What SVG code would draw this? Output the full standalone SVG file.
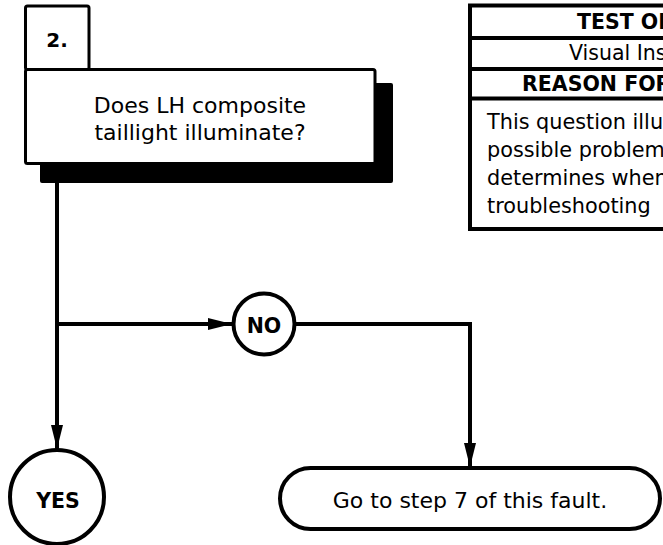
<svg xmlns="http://www.w3.org/2000/svg" width="663" height="545" viewBox="0 0 663 545">
<style>
text{font-family:"DejaVu Sans",Verdana,sans-serif;fill:#000}
.b{font-weight:bold}
.box{fill:#fff;stroke:#000;stroke-width:3}
.tbl{fill:#fff;stroke:#000;stroke-width:4}
.c{fill:none;stroke:#000;stroke-width:4}
.n{fill:#fff;stroke:#000;stroke-width:4}
</style>
<defs>
<marker id="ah" markerUnits="userSpaceOnUse" markerWidth="24" markerHeight="12" refX="24" refY="6" orient="auto">
<path d="M0,0 L24,6 L0,12 Z" fill="#000"/>
</marker>
</defs>
<rect width="663" height="545" fill="#fff"/>
<g id="step2">
<rect x="40" y="83" width="353" height="100" rx="2" fill="#000"/>
<rect class="box" x="25.5" y="69.5" width="349.5" height="94" rx="2"/>
<rect class="box" x="25.5" y="6" width="63.5" height="63.5" rx="2"/>
<text class="b" x="57" y="47" font-size="20" text-anchor="middle">2.</text>
<text x="200" y="113" font-size="22" text-anchor="middle">Does LH composite</text>
<text x="200" y="140" font-size="22" text-anchor="middle">taillight illuminate?</text>
</g>
<g id="info">
<rect class="tbl" x="470" y="5.5" width="240" height="223.5"/>
<line class="tbl" x1="470" y1="38" x2="710" y2="38"/>
<line class="tbl" x1="470" y1="69" x2="710" y2="69"/>
<line class="tbl" x1="470" y1="98.5" x2="710" y2="98.5"/>
<text class="b" x="577" y="29" font-size="20.5">TEST OF</text>
<text x="569" y="59.5" font-size="20.5">Visual Ins</text>
<text class="b" x="522" y="90.5" font-size="20.5">REASON FOR</text>
<text x="487" y="129" font-size="20.8">This question illu</text>
<text x="487" y="157" font-size="20.8">possible problem</text>
<text x="487" y="185" font-size="20.8">determines when</text>
<text x="487" y="213" font-size="20.8">troubleshooting</text>
</g>
<g id="connectors">
<path class="c" d="M57,183 V449" marker-end="url(#ah)"/>
<path class="c" d="M57,324 H232" marker-end="url(#ah)"/>
<path class="c" d="M296,324 H470 V467" marker-end="url(#ah)"/>
</g>
<g id="no">
<circle class="n" cx="264" cy="324" r="30.5"/>
<text class="b" x="264" y="333" font-size="20.5" text-anchor="middle">NO</text>
</g>
<g id="yes">
<circle class="n" cx="57" cy="497" r="47"/>
<text class="b" x="58" y="508" font-size="20.5" text-anchor="middle">YES</text>
</g>
<g id="goto">
<rect class="n" x="280" y="468" width="380" height="61" rx="30.5"/>
<text x="470" y="508" font-size="22" text-anchor="middle">Go to step 7 of this fault.</text>
</g>
</svg>
